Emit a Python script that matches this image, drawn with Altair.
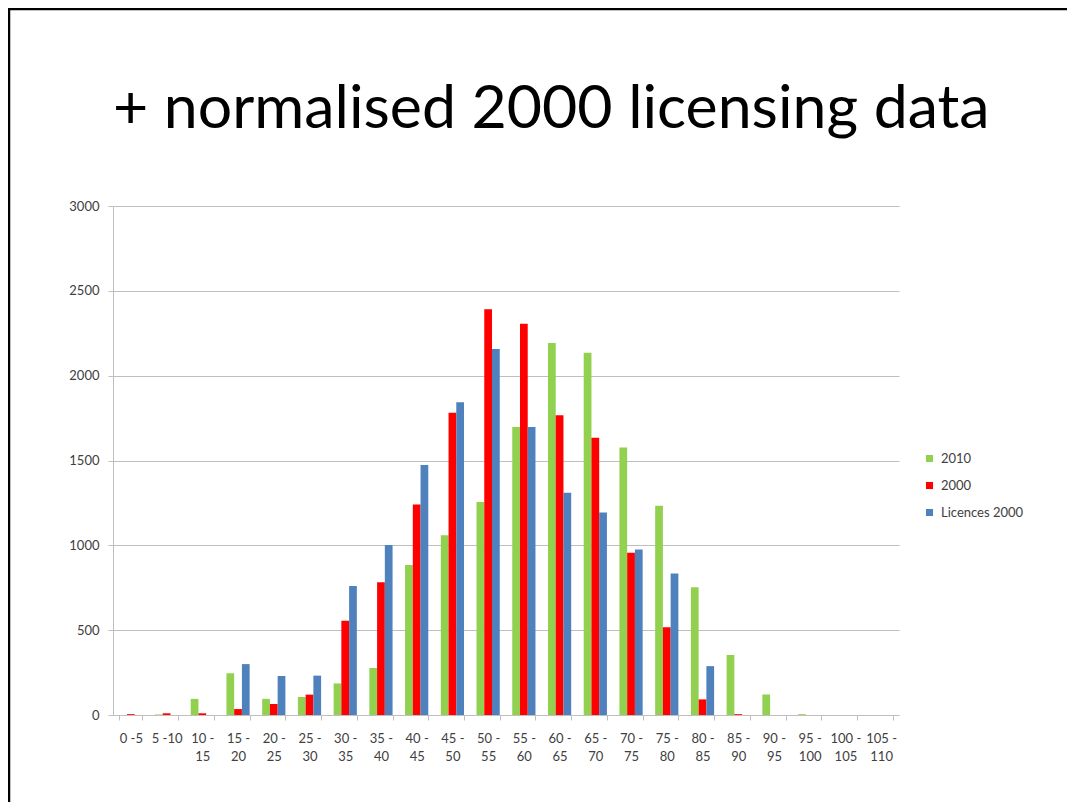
import altair as alt
import pandas as pd

categories = ["0 -5", "5 -10", "10 - 15", "15 - 20", "20 - 25", "25 - 30", "30 - 35",
              "35 - 40", "40 - 45", "45 - 50", "50 - 55", "55 - 60", "60 - 65", "65 - 70",
              "70 - 75", "75 - 80", "80 - 85", "85 - 90", "90 - 95", "95 - 100",
              "100 - 105", "105 - 110"]
values_2010 = [0, 3, 95, 246, 95, 106, 186, 277, 884, 1059, 1255, 1697, 2192, 2135,
               1576, 1233, 753, 354, 121, 5, 0, 0]
values_2000 = [5, 10, 10, 35, 65, 120, 555, 782, 1240, 1782, 2391, 2306, 1766, 1634,
               957, 517, 92, 5, 0, 0, 0, 0]
values_lic = [0, 0, 0, 300, 230, 232, 760, 1002, 1473, 1843, 2157, 1697, 1310, 1194,
              976, 834, 288, 0, 0, 0, 0, 0]
series_names = ["2010", "2000", "Licences 2000"]
series_colors = ["#92d050", "#ff0000", "#4f81bd"]
y_ticks = [0, 500, 1000, 1500, 2000, 2500, 3000]
title_text = "+ normalised 2000 licensing data"

rows = []
for name, vals in zip(series_names, [values_2010, values_2000, values_lic]):
    for c, v in zip(categories, vals):
        rows.append({"age": c, "series": name, "value": v})
df = pd.DataFrame(rows)

label_expr = ("length(datum.label) > 6 ? [slice(datum.label, 0, indexof(datum.label, '-') + 1), "
              "slice(datum.label, indexof(datum.label, '-') + 2)] : datum.label")

FONT = "Lato"
GRID = "#bfbfbf"
TXT = "#404040"

bars = alt.Chart(df).mark_bar().encode(
    x=alt.X("age:N", sort=categories, title=None,
            scale=alt.Scale(paddingInner=0.35, paddingOuter=0.175),
            axis=alt.Axis(labelAngle=0, labelExpr=label_expr, tickBand="extent",
                          tickSize=5, tickColor=GRID, domainColor=GRID,
                          labelColor=TXT, labelFontSize=13, labelFont=FONT,
                          labelPadding=12, labelLineHeight=18, labelBaseline="top")),
    xOffset=alt.XOffset("series:N", sort=series_names),
    y=alt.Y("value:Q", scale=alt.Scale(domain=[0, 3000]), title=None,
            axis=alt.Axis(values=y_ticks, format="d", grid=True, gridColor=GRID, tickSize=5,
                          tickColor=GRID, domainColor=GRID, labelColor=TXT,
                          labelFontSize=13, labelFont=FONT, labelPadding=9)),
    color=alt.Color("series:N", sort=series_names,
                    scale=alt.Scale(domain=series_names, range=series_colors),
                    legend=alt.Legend(title=None, orient="none", legendX=810, legendY=246,
                                      symbolType="square", symbolSize=50,
                                      symbolStrokeWidth=0, labelFontSize=13,
                                      labelFont=FONT, labelColor=TXT, rowPadding=13,
                                      labelOffset=5)),
)

left_border = alt.Chart(alt.Data(values=[{}])).mark_rule(color="black", strokeWidth=2.5).encode(
    x=alt.value(-104), y=alt.value(-198), y2=alt.value(600))
top_border = alt.Chart(alt.Data(values=[{}])).mark_rule(color="black", strokeWidth=2.5).encode(
    x=alt.value(-105), x2=alt.value(960), y=alt.value(-197))
title_mark = alt.Chart(alt.Data(values=[{"t": title_text}])).mark_text(
    font=FONT, fontSize=60.8, color="black", align="left", baseline="alphabetic").encode(
    text="t:N", x=alt.value(0), y=alt.value(-78))

chart = alt.layer(bars, left_border, top_border, title_mark).properties(
    width=786, height=509,
    autosize=alt.AutoSizeParams(type="none"),
    padding={"left": 105, "top": 198, "right": 168, "bottom": 87},
    background="white",
).configure_view(stroke=None)

chart.save("out.html", embed_options={"renderer": "svg", "actions": False})
